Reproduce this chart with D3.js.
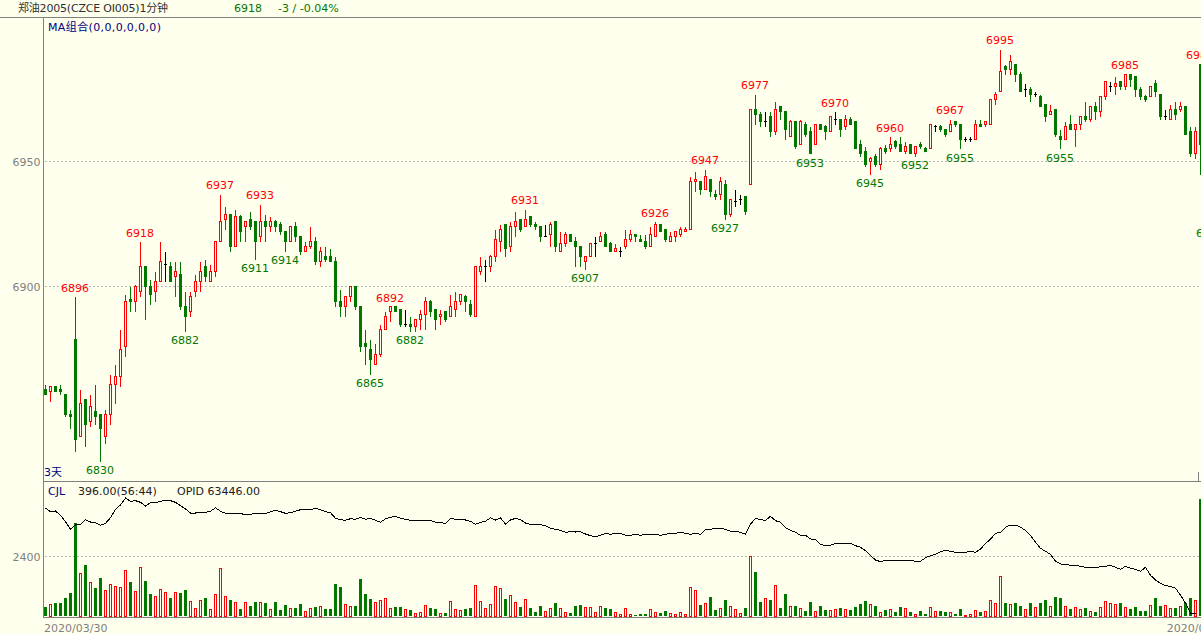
<!DOCTYPE html>
<html>
<head>
<meta charset="utf-8">
<script src="https://cdnjs.cloudflare.com/ajax/libs/d3/7.8.5/d3.min.js"></script>
<style>
  html, body { margin: 0; padding: 0; background: #ffffee; overflow: hidden; }
  svg { display: block; }
  text { font-family: "DejaVu Sans", "Noto Sans CJK SC", sans-serif; font-size: 11px; }
</style>
</head>
<body>
<div id="chart"></div>
<script>
var opens = [
  6859,6858,6860,6859,6857,6849,6879,6840,6855,6846,
  6850,6849,6840,6849,6861,6864,6876,6895,6894,6898,
  6908,6900,6898,6902,6909,6908,6904,6905,6892,6890,
  6898,6902,6908,6902,6906,6918,6927,6929,6916,6928,
  6924,6927,6926,6920,6926,6924,6926,6925,6922,6918,
  6924,6920,6914,6916,6918,6910,6912,6912,6910,6894,
  6892,6896,6900,6892,6877,6875,6869,6873,6883,6890,
  6892,6891,6885,6885,6884,6887,6889,6894,6891,6888,
  6890,6888,6891,6894,6896,6893,6888,6906,6908,6908,
  6912,6918,6925,6916,6924,6927,6924,6928,6925,6924,
  6920,6921,6926,6914,6917,6921,6918,6916,6910,6912,
  6917,6918,6921,6917,6914,6914,6916,6919,6921,6919,
  6918,6916,6920,6925,6923,6918,6920,6921,6922,6923,
  6942,6942,6939,6943,6937,6937,6941,6929,6934,6935,
  6936,6941,6971,6969,6966,6968,6962,6972,6970,6960,
  6966,6957,6965,6962,6957,6965,6964,6962,6967,6967,
  6964,6967,6966,6957,6954,6950,6952,6949,6955,6955,
  6958,6957,6954,6957,6953,6957,6955,6955,6964,6964,
  6963,6962,6966,6965,6959,6959,6959,6965,6965,6965,
  6975,6978,6988,6987,6989,6985,6979,6979,6977,6976,
  6973,6969,6971,6960,6959,6965,6963,6965,6968,6967,
  6972,6970,6976,6980,6980,6982,6980,6985,6984,6979,
  6976,6976,6981,6977,6968,6967,6971,6971,6972,6962,6953,6989
];
var closes = [
  6857,6860,6858,6858,6849,6848,6839,6853,6845,6852,
  6848,6843,6849,6861,6864,6875,6894,6894,6900,6908,
  6900,6897,6902,6910,6909,6902,6906,6892,6888,6896,
  6902,6906,6904,6906,6918,6926,6929,6916,6928,6922,
  6926,6924,6918,6926,6924,6926,6924,6922,6918,6924,
  6920,6914,6916,6918,6910,6914,6911,6910,6894,6892,
  6896,6900,6892,6876,6876,6871,6873,6883,6888,6892,
  6890,6885,6885,6884,6887,6889,6894,6890,6887,6889,
  6887,6892,6894,6897,6894,6889,6908,6908,6908,6912,
  6919,6923,6915,6924,6926,6923,6927,6925,6924,6920,
  6920,6925,6916,6917,6921,6918,6916,6912,6912,6917,
  6917,6920,6916,6914,6915,6914,6919,6921,6920,6918,
  6916,6921,6925,6922,6919,6920,6922,6923,6923,6942,
  6943,6939,6944,6938,6936,6942,6929,6935,6934,6935,
  6930,6971,6969,6966,6966,6962,6971,6970,6963,6966,
  6956,6966,6961,6953,6965,6963,6962,6968,6967,6963,
  6967,6965,6955,6953,6949,6951,6949,6955,6954,6957,
  6956,6954,6956,6953,6956,6956,6954,6965,6964,6963,
  6961,6965,6965,6959,6959,6959,6965,6964,6966,6975,
  6977,6986,6987,6990,6985,6978,6979,6977,6977,6972,
  6968,6970,6961,6959,6964,6963,6965,6968,6967,6972,
  6970,6976,6982,6980,6981,6980,6985,6983,6979,6976,
  6975,6980,6978,6968,6968,6971,6969,6972,6961,6953,6962,6957
];
var highs = [
  6861,6860,6860,6861,6857,6851,6896,6859,6855,6857,
  6861,6849,6851,6865,6869,6883,6897,6900,6901,6918,
  6908,6903,6906,6918,6914,6910,6910,6910,6898,6898,
  6905,6910,6911,6909,6918,6937,6932,6929,6931,6929,
  6926,6930,6926,6933,6929,6928,6927,6926,6922,6924,
  6926,6920,6918,6924,6920,6916,6916,6915,6912,6899,
  6896,6900,6900,6892,6883,6879,6877,6885,6890,6892,
  6892,6891,6891,6888,6887,6891,6896,6895,6891,6891,
  6890,6897,6898,6897,6897,6895,6908,6912,6911,6913,
  6923,6925,6925,6926,6930,6927,6931,6928,6926,6924,
  6925,6926,6926,6922,6922,6921,6920,6916,6912,6917,
  6920,6922,6922,6918,6917,6916,6923,6923,6921,6921,
  6921,6924,6926,6925,6923,6922,6922,6924,6924,6944,
  6946,6942,6947,6943,6939,6944,6943,6935,6939,6937,
  6936,6971,6977,6970,6970,6970,6974,6972,6970,6967,
  6966,6967,6966,6964,6965,6965,6965,6968,6970,6967,
  6969,6968,6966,6959,6956,6952,6953,6956,6957,6960,
  6959,6960,6958,6957,6956,6958,6956,6965,6965,6965,
  6963,6967,6966,6965,6960,6960,6967,6967,6966,6975,
  6978,6995,6989,6993,6989,6986,6981,6980,6978,6977,
  6973,6973,6971,6963,6966,6969,6965,6968,6974,6972,
  6974,6976,6982,6982,6984,6982,6985,6985,6984,6980,
  6977,6980,6983,6977,6971,6973,6974,6974,6972,6964,6964,6989
];
var lows = [
  6857,6854,6858,6857,6848,6843,6834,6840,6836,6844,
  6845,6830,6837,6845,6853,6860,6872,6890,6890,6896,
  6887,6893,6894,6902,6902,6902,6896,6891,6882,6888,
  6896,6898,6902,6902,6904,6918,6923,6914,6916,6918,
  6918,6923,6911,6918,6918,6922,6922,6921,6914,6918,
  6918,6913,6914,6915,6909,6908,6910,6910,6892,6888,
  6888,6894,6891,6874,6869,6865,6869,6872,6883,6886,
  6890,6884,6884,6882,6882,6883,6883,6888,6883,6885,
  6886,6888,6888,6893,6890,6888,6888,6905,6902,6906,
  6910,6914,6912,6914,6920,6922,6924,6924,6923,6918,
  6920,6916,6914,6914,6916,6918,6908,6908,6907,6912,
  6912,6918,6916,6914,6914,6912,6915,6918,6918,6918,
  6915,6916,6920,6922,6918,6918,6918,6920,6922,6923,
  6938,6937,6939,6936,6935,6935,6927,6928,6932,6933,
  6929,6941,6965,6964,6964,6960,6961,6967,6959,6960,
  6955,6957,6960,6953,6957,6963,6959,6962,6965,6960,
  6963,6965,6955,6952,6948,6945,6948,6947,6953,6954,
  6955,6954,6953,6953,6952,6955,6954,6955,6962,6962,
  6960,6962,6964,6955,6958,6958,6959,6964,6964,6965,
  6973,6978,6985,6985,6982,6978,6976,6974,6976,6972,
  6966,6969,6960,6955,6959,6963,6956,6963,6966,6966,
  6967,6968,6975,6978,6977,6979,6979,6980,6976,6975,
  6974,6976,6976,6967,6967,6967,6967,6970,6961,6952,6951,6945
];
var volumes = [
  347,467,507,507,707,907,3707,1707,2027,1347,
  1120,1507,1027,1267,1187,1147,1827,1347,987,1947,
  1387,867,787,1067,947,707,947,907,1027,587,
  307,627,707,267,867,1907,787,627,547,267,
  547,387,547,547,507,267,547,227,427,307,
  307,487,207,327,367,407,287,287,1287,1167,
  487,407,407,1487,887,687,567,647,727,327,
  367,367,287,247,127,167,447,327,287,127,
  127,607,287,247,287,327,1247,607,327,487,
  1207,1127,687,847,567,367,687,327,167,407,
  207,327,527,327,167,127,407,447,367,367,
  167,407,327,287,167,87,327,87,47,87,
  87,287,167,127,207,127,87,167,87,1167,
  1047,447,527,767,247,327,647,407,287,127,
  327,2407,1767,567,727,647,1247,327,887,407,
  407,327,207,567,207,407,247,247,287,327,
  287,247,367,487,607,487,407,167,247,287,
  167,367,327,167,87,207,87,367,207,207,
  167,167,87,287,47,87,247,167,207,647,
  527,1607,527,487,527,407,287,527,367,527,
  647,407,767,727,407,287,367,287,327,207,
  167,367,607,527,487,527,367,287,367,207,
  207,447,727,407,447,327,327,407,527,727,647,4700
];
var opid = [
  65552,65478,65492,65406,65278,65126,65212,65226,65318,65272,
  65258,65206,65246,65358,65526,65612,65752,65686,65698,65666,
  65592,65658,65652,65686,65706,65698,65666,65598,65532,65452,
  65452,65466,65466,65486,65558,65486,65446,65432,65438,65446,
  65412,65426,65446,65446,65438,65478,65506,65478,65446,65458,
  65486,65518,65518,65518,65546,65518,65478,65458,65346,65318,
  65306,65338,65326,65366,65326,65346,65306,65266,65338,65366,
  65386,65346,65326,65306,65306,65306,65306,65306,65266,65258,
  65246,65346,65326,65318,65312,65286,65226,65266,65286,65358,
  65312,65358,65226,65312,65346,65318,65252,65226,65226,65218,
  65198,65146,65126,65106,65066,65078,65072,65078,65032,64998,
  64978,65006,65046,65026,65046,65046,65006,65006,65026,65006,
  65026,65026,65026,65006,65026,65046,65046,65066,65046,65026,
  65046,65026,65126,65126,65146,65146,65126,65086,65086,65066,
  65026,65226,65346,65318,65306,65386,65298,65266,65158,65106,
  65066,65006,65006,64932,64926,64826,64798,64806,64846,64838,
  64846,64846,64798,64766,64698,64598,64512,64478,64506,64506,
  64506,64506,64506,64506,64486,64486,64558,64598,64626,64678,
  64706,64686,64666,64666,64666,64686,64666,64726,64846,64926,
  65046,65066,65166,65212,65212,65166,65106,65006,64866,64746,
  64686,64626,64486,64432,64426,64406,64406,64386,64366,64366,
  64352,64378,64386,64406,64366,64326,64386,64346,64326,64286,
  64366,64206,64112,64046,63998,63986,63946,63812,63646,63446,63446
];

// peak / trough labels: candle index and value
var highIdx = [6,19,35,43,69,96,122,132,142,158,169,181,191,216,231];
var highVal = [6896,6918,6937,6933,6892,6931,6926,6947,6977,6970,6960,6967,6995,6985,6989];
var lowIdx = [11,28,42,48,65,73,108,136,153,165,174,183,203,233];
var lowVal = [6830,6882,6911,6914,6865,6882,6907,6927,6953,6945,6952,6955,6955,6925];

var priceTicks = [6900, 6950];
var volTicks = [2400];
var dateIdx = [0, 231];
var dateLabels = ["2020/03/30", "2020/03/31"];

var width = 1201, height = 634;
var bg = "#ffffee", red = "#ff0000", green = "#007800", gray = "#808080", grid = "#b8b8b8", navy = "#000080";
var axisX = 43.5, topY = 17.5, midY = 481.5, baseY = 616.5;

var x = d3.scaleLinear().domain([0, 231]).range([45.5, 1200.5]);
var y = d3.scaleLinear().domain([6900, 6950]).range([286.5, 161.5]);
var yVol = d3.scaleLinear().domain([0, 2400]).range([616.5, 556.5]);
var yOpi = d3.scaleLinear().domain([63446, 65800]).range([613.3, 495.6]);

// snap to pixel centre so 1px lines stay sharp
function snap(v) { return Math.floor(v) + 0.5; }

var svg = d3.select("#chart").append("svg")
  .attr("width", width)
  .attr("height", height);

svg.append("rect").attr("width", width).attr("height", height).attr("fill", bg);

// frame lines
var frame = svg.append("g").attr("stroke", gray).attr("shape-rendering", "crispEdges");
frame.append("line").attr("x1", 0).attr("x2", width).attr("y1", topY).attr("y2", topY);
frame.append("line").attr("x1", axisX).attr("x2", width).attr("y1", midY).attr("y2", midY);
frame.append("line").attr("x1", axisX).attr("x2", width).attr("y1", baseY + 0.5).attr("y2", baseY + 0.5);
frame.append("line").attr("x1", axisX).attr("x2", axisX).attr("y1", topY).attr("y2", baseY + 1);
frame.append("line").attr("x1", x(231) - 2).attr("x2", x(231) - 2).attr("y1", 472).attr("y2", midY);

// horizontal dashed grid
svg.append("g").selectAll("line")
  .data(priceTicks.map(function(d){ return y(d); }).concat(volTicks.map(function(d){ return yVol(d); })))
  .enter().append("line")
  .attr("x1", axisX + 1).attr("x2", width)
  .attr("y1", function(d){ return d; }).attr("y2", function(d){ return d; })
  .attr("stroke", grid).attr("stroke-dasharray", "2,2").attr("shape-rendering", "crispEdges");

// axes
function styleAxis(g) {
  g.select(".domain").remove();
  g.selectAll("text").attr("fill", gray).style("font-size", "11px").style("font-family", '"DejaVu Sans", sans-serif');
}
svg.append("g").attr("transform", "translate(" + axisX + ",0)")
  .call(d3.axisLeft(y).tickValues(priceTicks).tickSize(0).tickPadding(3).tickFormat(d3.format("d")))
  .call(styleAxis);
svg.append("g").attr("transform", "translate(" + axisX + ",0)")
  .call(d3.axisLeft(yVol).tickValues(volTicks).tickSize(0).tickPadding(3).tickFormat(d3.format("d")))
  .call(styleAxis);

var idx = d3.range(opens.length);
function colorOf(i) {
  if (closes[i] > opens[i]) return red;
  if (closes[i] < opens[i]) return green;
  return "#000000";
}

// candles
var candles = svg.append("g").attr("shape-rendering", "crispEdges");
candles.selectAll("line.wick").data(idx).enter().append("line")
  .attr("class", "wick")
  .attr("x1", function(i){ return x(i); }).attr("x2", function(i){ return x(i); })
  .attr("y1", function(i){ return snap(y(highs[i])); })
  .attr("y2", function(i){ return snap(y(lows[i])); })
  .attr("stroke", colorOf);

candles.selectAll("rect.up").data(idx.filter(function(i){ return closes[i] > opens[i]; })).enter().append("rect")
  .attr("class", "up")
  .attr("x", function(i){ return x(i) - 1; })
  .attr("width", 2)
  .attr("y", function(i){ return snap(y(closes[i])); })
  .attr("height", function(i){ return snap(y(opens[i])) - snap(y(closes[i])); })
  .attr("fill", bg).attr("stroke", red);

candles.selectAll("rect.down").data(idx.filter(function(i){ return closes[i] < opens[i]; })).enter().append("rect")
  .attr("class", "down")
  .attr("x", function(i){ return x(i) - 1.5; })
  .attr("width", 3)
  .attr("y", function(i){ return Math.floor(y(opens[i])); })
  .attr("height", function(i){ return Math.floor(y(closes[i])) - Math.floor(y(opens[i])) + 1; })
  .attr("fill", green);

candles.selectAll("line.doji").data(idx.filter(function(i){ return closes[i] === opens[i]; })).enter().append("line")
  .attr("class", "doji")
  .attr("x1", function(i){ return x(i) - 1.5; }).attr("x2", function(i){ return x(i) + 1.5; })
  .attr("y1", function(i){ return snap(y(closes[i])); })
  .attr("y2", function(i){ return snap(y(closes[i])); })
  .attr("stroke", "#000000");

// high and low labels
var labels = svg.append("g").attr("text-anchor", "middle");
labels.selectAll("text.hi").data(highIdx).enter().append("text")
  .attr("class", "hi")
  .attr("x", function(d){ return x(d) - 0.5; })
  .attr("y", function(d,i){ return y(highVal[i]) - 5; })
  .attr("fill", red)
  .text(function(d,i){ return highVal[i]; });
labels.selectAll("text.lo").data(lowIdx).enter().append("text")
  .attr("class", "lo")
  .attr("x", function(d){ return x(d) - 0.5; })
  .attr("y", function(d,i){ return y(lowVal[i]) + 12.5; })
  .attr("fill", green)
  .text(function(d,i){ return lowVal[i]; });

// volume bars
var bars = svg.append("g").attr("shape-rendering", "crispEdges");
bars.selectAll("rect").data(idx).enter().append("rect")
  .attr("x", function(i){ return closes[i] >= opens[i] ? x(i) - 1 : x(i) - 1.5; })
  .attr("width", function(i){ return closes[i] >= opens[i] ? 2 : 3; })
  .attr("y", function(i){ return closes[i] >= opens[i] ? snap(yVol(volumes[i])) : Math.floor(yVol(volumes[i])); })
  .attr("height", function(i){ return baseY - Math.floor(yVol(volumes[i])) - 0.5; })
  .attr("fill", function(i){ return closes[i] >= opens[i] ? bg : green; })
  .attr("stroke", function(i){ return closes[i] >= opens[i] ? red : "none"; });

// open interest line
var opiLine = d3.line()
  .x(function(d,i){ return x(i); })
  .y(function(d){ return yOpi(d); });
svg.append("path")
  .datum(opid)
  .attr("fill", "none")
  .attr("stroke", "#000000")
  .attr("stroke-width", 1)
  .attr("shape-rendering", "crispEdges")
  .attr("d", opiLine);

// dates
svg.append("text").attr("x", x(dateIdx[0]) - 1.5).attr("y", 632).attr("fill", gray).text(dateLabels[0]);
svg.append("text").attr("x", x(dateIdx[1]) - 2).attr("y", 632).attr("fill", gray).attr("text-anchor", "middle").text(dateLabels[1]);

// header and panel captions
function caption(tx, ty, color, s) {
  return svg.append("text").attr("x", tx).attr("y", ty).attr("fill", color).text(s);
}
caption(18, 12, "#303030", "郑油2005(CZCE OI005)1分钟").attr("textLength", 150);
caption(234, 12, green, "6918");
caption(278, 12, green, "-3 / -0.04%");
caption(48, 31, navy, "MA组合(0,0,0,0,0,0)").attr("textLength", 113);
caption(44, 476, navy, "3天");
caption(48, 495, navy, "CJL");
caption(78, 495, "#202020", "396.00(56:44)");
caption(177, 495, "#202020", "OPID 63446.00");
</script>
</body>
</html>
